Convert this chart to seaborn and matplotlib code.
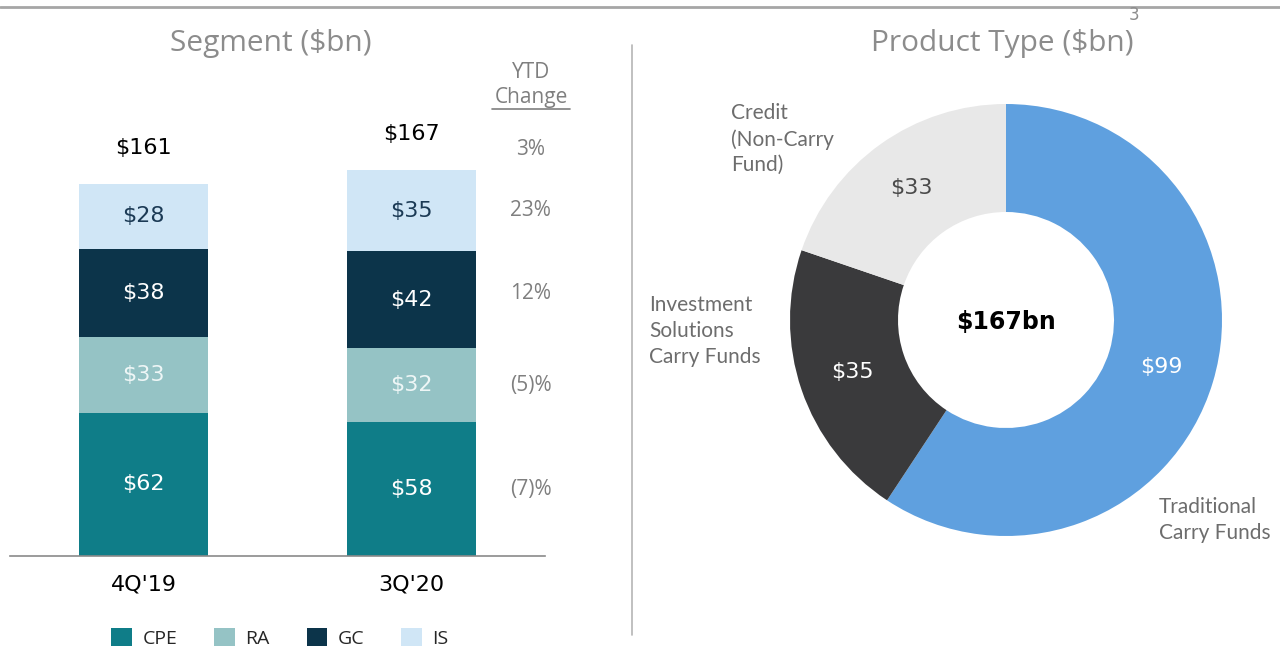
import matplotlib
import numpy as np
import seaborn as sns

matplotlib.use("Agg")
import matplotlib.pyplot as plt
from matplotlib.lines import Line2D
from matplotlib.patches import Patch


# segment data ($bn)
periods = ["4Q'19", "3Q'20"]
segments = ["CPE", "RA", "GC", "IS"]
cpe = [62, 58]
ra = [33, 32]
gc = [38, 42]
is_ = [28, 35]
totals = [161, 167]
ytd_change = ["(7)%", "(5)%", "12%", "23%"]
ytd_total_change = "3%"

# product type data ($bn)
product_labels = ["Traditional\nCarry Funds", "Investment\nSolutions\nCarry Funds", "Credit\n(Non-Carry\nFund)"]
product_values = [99, 35, 33]
product_total = "$167bn"

seg_colors = ["#0f7d88", "#95c3c5", "#0c344a", "#d0e6f6"]
seg_text_colors = ["white", "#eef6f6", "white", "#1b3a55"]
prod_colors = ["#5fa0df", "#3a3a3c", "#e8e8e8"]
prod_text_colors = ["white", "white", "#4a4a4a"]

W, H = 1280, 652


def px_x(x):
    return x / W


def px_y(y):
    return 1 - y / H


def main() -> None:
    sns.set_theme(style="white")
    plt.rcParams["font.family"] = ["DejaVu Sans"]

    fig = plt.figure(figsize=(12.8, 6.52), dpi=100)

    # ---- stacked bars ----
    ax = fig.add_axes([px_x(10), px_y(556), px_x(535), 462 / H])
    stack = np.array([cpe, ra, gc, is_])
    cum = np.cumsum(stack, axis=0)
    for i in reversed(range(len(segments))):
        sns.barplot(
            x=periods, y=cum[i], color=seg_colors[i], saturation=1,
            width=0.483, linewidth=0, errorbar=None, ax=ax,
        )
    ax.set_xlim(-0.5, 1.5)
    ax.set_ylim(0, 200)
    sns.despine(ax=ax, left=True)
    ax.spines["bottom"].set_color("#8a8a8a")
    ax.spines["bottom"].set_linewidth(1.2)
    ax.set_yticks([])
    ax.set_xlabel("")
    ax.tick_params(axis="x", length=0, pad=13, labelsize=16, labelcolor="black")

    for j in range(len(periods)):
        for i in range(len(segments)):
            mid = cum[i, j] - stack[i, j] / 2
            ax.text(j, mid, f"${stack[i, j]}", ha="center", va="center",
                    fontsize=16, color=seg_text_colors[i])
        ax.text(j, totals[j] + 15.5, f"${totals[j]}", ha="center", va="center",
                fontsize=16, color="black")

    # YTD change column
    xc = 1.447
    pct_kw = dict(ha="center", va="center", fontsize=15, color="#7f7f7f",
                  family=["Open Sans", "DejaVu Sans"])
    for i in range(len(segments)):
        mid = cum[i, 1] - stack[i, 1] / 2
        if segments[i] == "GC":
            mid += 2.5
        ax.text(xc, mid, ytd_change[i], clip_on=False, **pct_kw)
    ax.text(xc, 175.8, ytd_total_change, clip_on=False, **pct_kw)
    fig.text(px_x(531), px_y(73), "YTD", **pct_kw)
    fig.text(px_x(531), px_y(98), "Change", **pct_kw)
    fig.add_artist(Line2D([px_x(492), px_x(570)], [px_y(109)] * 2,
                          color="#7f7f7f", lw=1.2, transform=fig.transFigure))

    title_kw = dict(ha="center", va="center", fontsize=21.5, color="#8c8c8c",
                    family=["Open Sans", "DejaVu Sans"])
    fig.text(px_x(271), px_y(44), "Segment ($bn)", **title_kw)

    handles = [Patch(facecolor=c, edgecolor="none") for c in seg_colors]
    fig.legend(handles, segments, loc="center", bbox_to_anchor=(px_x(280), px_y(638)),
               ncol=4, frameon=False, handlelength=1.05, handleheight=1.05,
               handletextpad=0.55, columnspacing=1.9,
               prop=dict(family=["Open Sans", "DejaVu Sans"], size=14))

    # ---- donut ----
    r = 216
    ax2 = fig.add_axes([px_x(1006 - r), px_y(320 + r), 2 * r / W, 2 * r / H])
    _, _, autotexts = ax2.pie(
        product_values, colors=prod_colors, startangle=90, counterclock=False,
        wedgeprops=dict(width=0.5, linewidth=0),
        autopct=lambda p: f"${p * sum(product_values) / 100:.0f}",
        pctdistance=0.75, textprops=dict(fontsize=16),
    )
    for t, c in zip(autotexts, prod_text_colors):
        t.set_color(c)
    ax2.set_xlim(-1, 1)
    ax2.set_ylim(-1, 1)
    ax2.text(0, -0.01, product_total, ha="center", va="center",
             fontsize=17, fontweight="bold", color="black")

    label_kw = dict(ha="left", va="top", fontsize=15, color="#6d6d6d",
                    linespacing=1.36, family=["Lato", "DejaVu Sans"])
    fig.text(px_x(1159), px_y(497), product_labels[0], **label_kw)
    fig.text(px_x(649), px_y(295), product_labels[1], **label_kw)
    fig.text(px_x(731), px_y(103), product_labels[2], **label_kw)

    fig.text(px_x(1002), px_y(44), "Product Type ($bn)", **title_kw)

    # ---- page furniture ----
    fig.add_artist(Line2D([0, 1], [px_y(7)] * 2, color="#a6a6a6", lw=2,
                          transform=fig.transFigure))
    fig.add_artist(Line2D([px_x(632)] * 2, [px_y(45), px_y(635)], color="#b5b5b5",
                          lw=1.2, transform=fig.transFigure))
    fig.text(px_x(1134), px_y(15), "3", ha="center", va="center",
             fontsize=12, color="#8c8c8c")

    fig.savefig("out.png", dpi=100)
    plt.close(fig)


if __name__ == "__main__":
    main()
